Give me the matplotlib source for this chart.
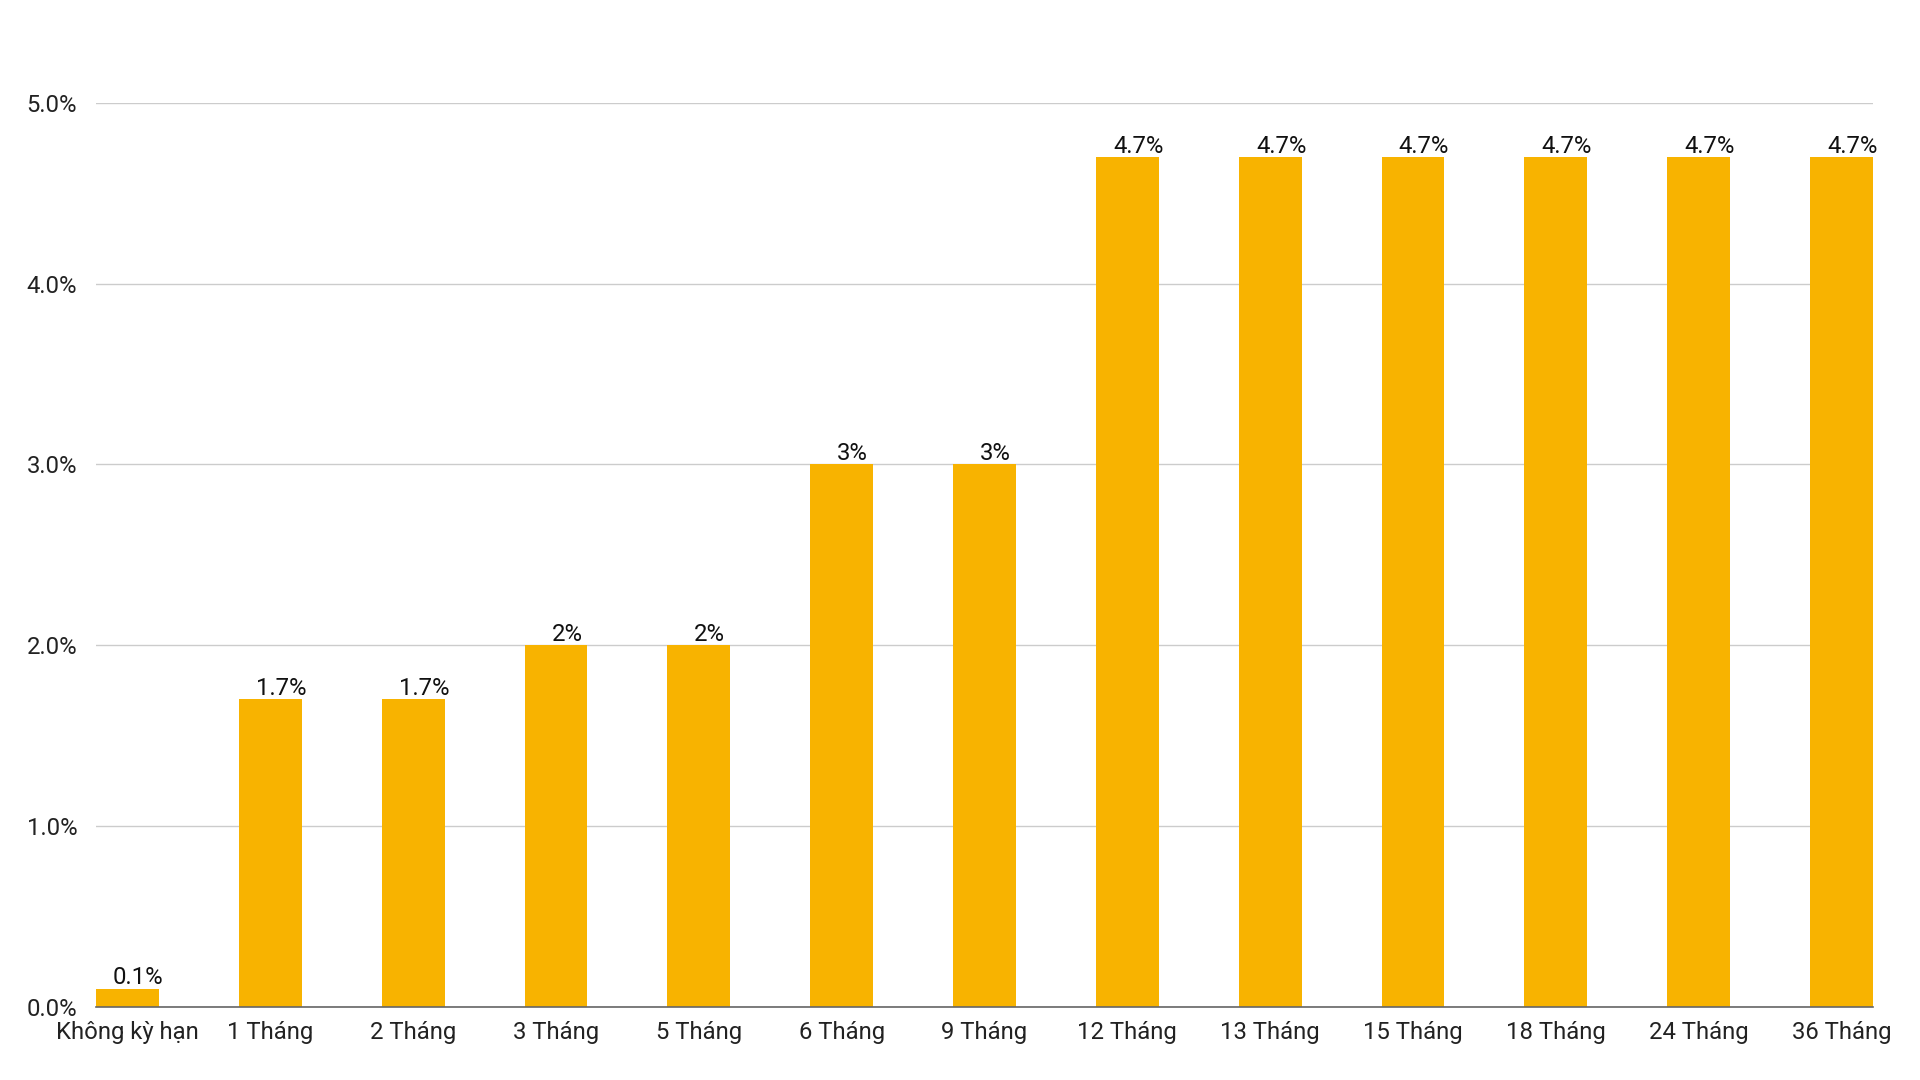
import matplotlib.pyplot as plt
from matplotlib.ticker import FuncFormatter

plt.rcParams['font.family'] = ['Roboto', 'DejaVu Sans']

# ky han va lai suat (%)
categories = ["Không kỳ hạn", "1 Tháng", "2 Tháng", "3 Tháng", "5 Tháng", "6 Tháng",
              "9 Tháng", "12 Tháng", "13 Tháng", "15 Tháng", "18 Tháng", "24 Tháng", "36 Tháng"]
rates = [0.1, 1.7, 1.7, 2, 2, 3, 3, 4.7, 4.7, 4.7, 4.7, 4.7, 4.7]
rate_labels = ["0.1%", "1.7%", "1.7%", "2%", "2%", "3%", "3%",
               "4.7%", "4.7%", "4.7%", "4.7%", "4.7%", "4.7%"]
yticks = [0, 1, 2, 3, 4, 5]

bar_color = "#F8B300"
bar_w = 0.44

fig = plt.figure(figsize=(19.2, 10.8), dpi=100)
ax = fig.add_axes([0.05, 0.0679, 0.9255, 0.8367])

x = list(range(len(categories)))
ax.bar(x, rates, width=bar_w, color=bar_color, zorder=2)

for xi, v, lab in zip(x, rates, rate_labels):
    ax.text(xi + 0.077, v - 0.005, lab, ha="center", va="bottom", fontsize=17.2, color="#111111")

ax.set_xlim(-bar_w / 2, len(categories) - 1 + bar_w / 2)
ax.set_ylim(0, 5)
ax.set_yticks(yticks)
ax.yaxis.set_major_formatter(FuncFormatter(lambda v, p: f"{v:.1f}%"))
ax.set_xticks(x)
ax.set_xticklabels(categories)

ax.grid(axis="y", color="#cccccc", linewidth=1, zorder=0)
ax.tick_params(axis="both", length=0, labelsize=17.2, colors="#222222")
ax.tick_params(axis="y", pad=13.5)
ax.tick_params(axis="x", pad=10.5)

for s in ["top", "right", "left"]:
    ax.spines[s].set_visible(False)
ax.spines["bottom"].set_color("#666666")
ax.spines["bottom"].set_linewidth(1.2)
ax.spines["bottom"].set_zorder(3)

fig.savefig("out.png", dpi=100, facecolor="white")
